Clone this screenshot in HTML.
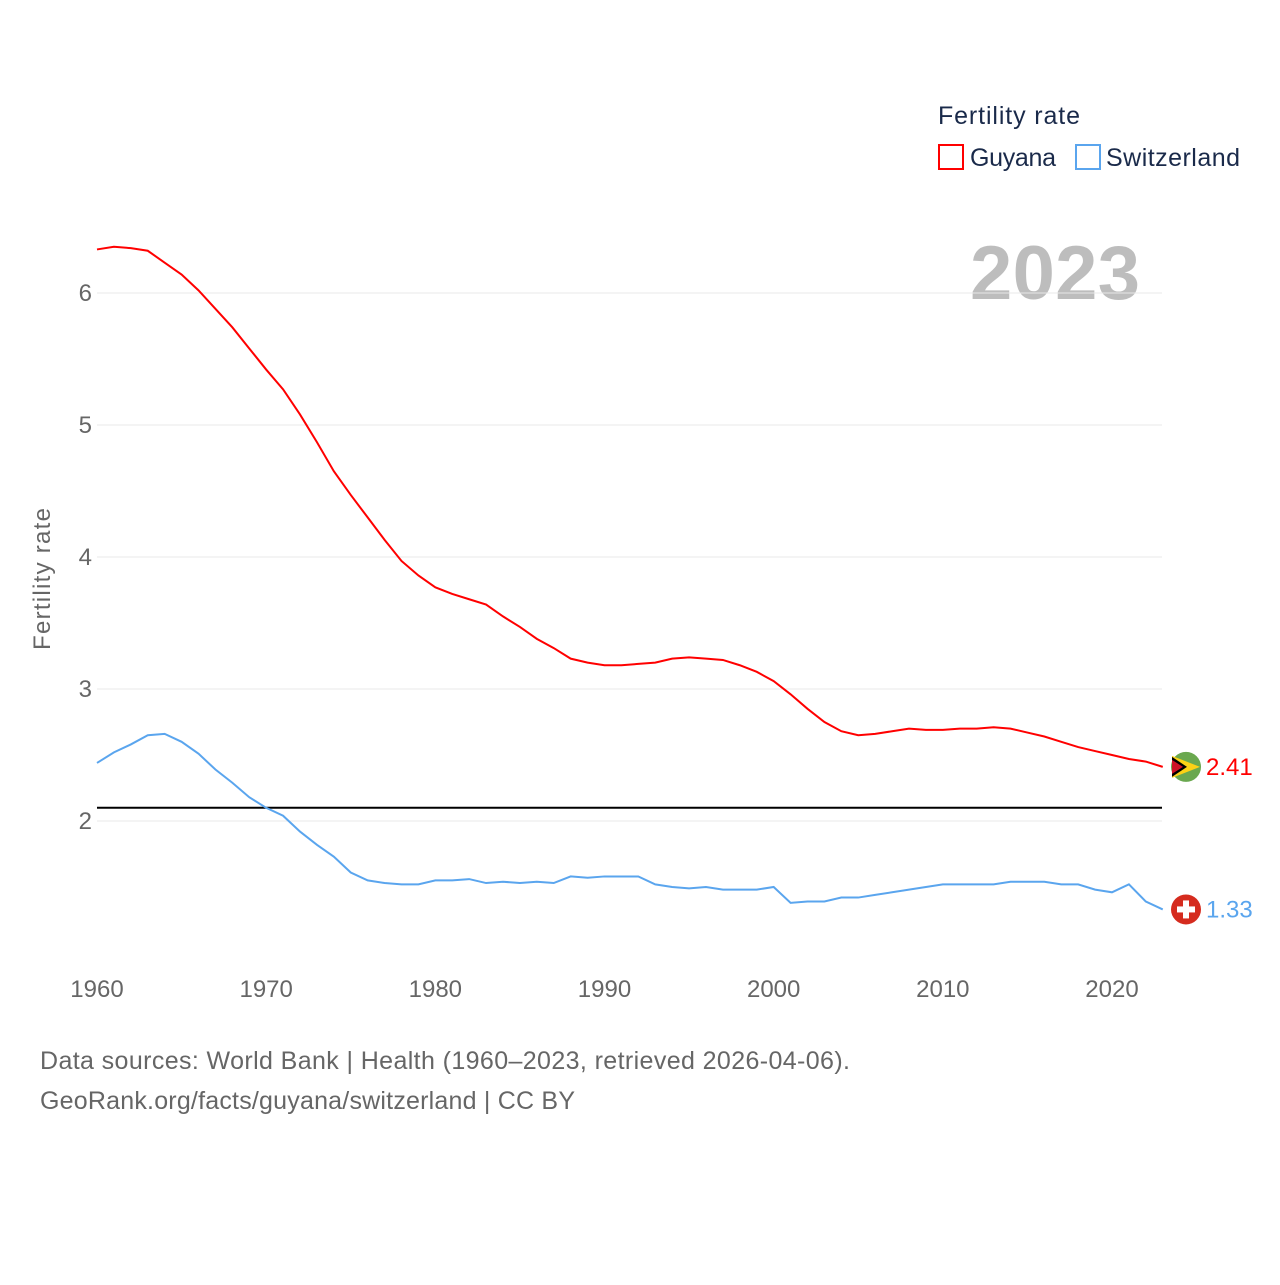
<!DOCTYPE html>
<html><head><meta charset="utf-8"><style>
body{margin:0;background:#fff;width:1280px;height:1280px;overflow:hidden;font-family:"Liberation Sans",sans-serif}
svg text{font-family:"Liberation Sans",sans-serif}
</style></head><body>
<svg id="chart" width="1280" height="1280">
<text x="938" y="124" font-size="25" fill="#1a2a4a" textLength="142">Fertility rate</text>
<g><rect x="939" y="145" width="24" height="24" fill="none" stroke="#f00" stroke-width="2"/><text x="970" y="166" font-size="25" fill="#1a2a4a" textLength="86">Guyana</text></g>
<g><rect x="1076" y="145" width="24" height="24" fill="none" stroke="#5aa5ee" stroke-width="2"/><text x="1106" y="166" font-size="25" fill="#1a2a4a" textLength="134">Switzerland</text></g>
<text x="1140" y="299" font-size="76" font-weight="bold" fill="#bdbdbd" text-anchor="end" textLength="170">2023</text>
<text transform="translate(50,579) rotate(-90)" font-size="24" fill="#666" text-anchor="middle" textLength="142">Fertility rate</text>
<g id="grid"></g><g id="lines"></g>
<text x="40" y="1069" font-size="25" fill="#666" textLength="810">Data sources: World Bank | Health (1960–2023, retrieved 2026-04-06).</text>
<text x="40" y="1109" font-size="25" fill="#666" textLength="535">GeoRank.org/facts/guyana/switzerland | CC BY</text>
</svg>
<script>
const years=[];for(let y=1960;y<=2023;y++)years.push(y);
const guyana=[6.33,6.35,6.34,6.32,6.23,6.14,6.02,5.88,5.74,5.58,5.42,5.27,5.08,4.87,4.65,4.47,4.30,4.13,3.97,3.86,3.77,3.72,3.68,3.64,3.55,3.47,3.38,3.31,3.23,3.20,3.18,3.18,3.19,3.20,3.23,3.24,3.23,3.22,3.18,3.13,3.06,2.96,2.85,2.75,2.68,2.65,2.66,2.68,2.70,2.69,2.69,2.70,2.70,2.71,2.70,2.67,2.64,2.60,2.56,2.53,2.50,2.47,2.45,2.41];
const switzerland=[2.44,2.52,2.58,2.65,2.66,2.60,2.51,2.39,2.29,2.18,2.10,2.04,1.92,1.82,1.73,1.61,1.55,1.53,1.52,1.52,1.55,1.55,1.56,1.53,1.54,1.53,1.54,1.53,1.58,1.57,1.58,1.58,1.58,1.52,1.50,1.49,1.50,1.48,1.48,1.48,1.50,1.38,1.39,1.39,1.42,1.42,1.44,1.46,1.48,1.50,1.52,1.52,1.52,1.52,1.54,1.54,1.54,1.52,1.52,1.48,1.46,1.52,1.39,1.33];
const yTicks=[2,3,4,5,6];
const xTicks=[1960,1970,1980,1990,2000,2010,2020];
const replacement=2.1;
const X=y=>97+(y-1960)*(1015/60);
const Y=v=>821-(v-2)*132;
const NS="http://www.w3.org/2000/svg";
const grid=document.getElementById('grid'),lines=document.getElementById('lines');
function mk(tag,attrs,parent){const e=document.createElementNS(NS,tag);for(const k in attrs)e.setAttribute(k,attrs[k]);parent.appendChild(e);return e;}
yTicks.forEach(t=>{
 const l=mk('line',{x1:97,x2:1162,y1:Y(t),y2:Y(t),stroke:'#e8e8e8','stroke-width':1},grid);
 
 
 const tx=mk('text',{x:92,y:Y(t)+8,'font-size':24,fill:'#666','text-anchor':'end'},grid);tx.textContent=t;
 
 
});
xTicks.forEach(t=>{
 const tx=mk('text',{x:X(t),y:997,'font-size':24,fill:'#666','text-anchor':'middle'},grid);tx.textContent=t;
 
 
});
const rl=mk('line',{x1:97,x2:1162,y1:Y(replacement),y2:Y(replacement),stroke:'#000','stroke-width':2},lines);


function series(vals,color,name){
 const p=mk('polyline',{points:vals.map((v,i)=>X(years[i])+','+Y(v)).join(' '),fill:'none',stroke:color,'stroke-width':2},lines);
 
 
 const last=vals[vals.length-1],cy=Y(last);
 const c=mk('circle',{cx:1186,cy:cy,r:15,fill:name==='guyana'?'#6aa84f':'#d52b1e'},lines);
 
 
 if(name==='guyana'){
  mk('polygon',{points:`1172,${cy-11} 1200,${cy} 1172,${cy+11}`,fill:'#fcd116'},lines);
  mk('polygon',{points:`1172,${cy-10} 1187,${cy} 1172,${cy+10}`,fill:'#000'},lines);
  mk('polygon',{points:`1172,${cy-7} 1183,${cy} 1172,${cy+7}`,fill:'#ce1126'},lines);
 } else {
  mk('rect',{x:1183,y:cy-9,width:6,height:18,fill:'#fff'},lines);
  mk('rect',{x:1177,y:cy-3,width:18,height:6,fill:'#fff'},lines);
 }
 const t=mk('text',{x:1206,y:cy+8,'font-size':24,fill:color},lines);t.textContent=last.toFixed(2);
 
 
}
series(guyana,'#ff0000','guyana');
series(switzerland,'#5aa5ee','switzerland');
</script>
</body></html>
